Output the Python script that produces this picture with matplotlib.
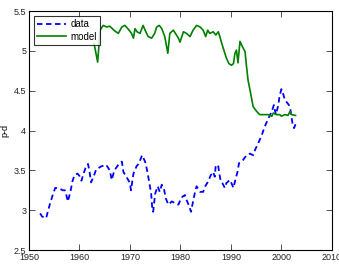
import matplotlib
matplotlib.use("Agg")
import matplotlib.pyplot as plt

plt.rcParams['font.family'] = ['Liberation Sans', 'DejaVu Sans']

data_years = [1952.2, 1952.6, 1953.4, 1953.8, 1954.3, 1954.75, 1955.2, 1956.1, 1956.7, 1957.1,
              1957.4, 1957.7, 1958.2, 1958.6, 1959.0, 1959.6, 1960.0, 1960.4, 1960.7, 1961.2,
              1961.7, 1962.0, 1962.3, 1962.9, 1963.3, 1964.3, 1965.3, 1966.0, 1966.4, 1966.9,
              1967.7, 1968.4, 1968.7, 1969.3, 1970.0, 1970.2, 1970.7, 1971.3, 1971.8, 1972.4,
              1973.0, 1973.4, 1973.8, 1974.2, 1974.4, 1974.6, 1975.0, 1975.5, 1975.9, 1976.3,
              1976.7, 1977.1, 1977.6, 1978.3, 1978.9, 1979.6, 1980.2, 1980.9, 1981.2, 1981.6,
              1982.1, 1982.5, 1982.9, 1983.2, 1983.9, 1984.5, 1984.9, 1985.5, 1986.0, 1986.5,
              1986.8, 1987.0, 1987.5, 1987.7, 1988.0, 1988.3, 1988.8, 1989.1, 1989.8, 1990.1,
              1990.5, 1990.8, 1991.3, 1991.6, 1992.4, 1993.1, 1993.8, 1994.4, 1994.8, 1995.4,
              1996.1, 1996.7, 1997.4, 1998.1, 1998.5, 1998.9, 1999.4, 1999.6, 2000.0, 2000.4,
              2000.7, 2001.0, 2001.5, 2001.8, 2002.0, 2002.2, 2002.5, 2002.8]
data_values = [2.96, 2.92, 2.90, 3.00, 3.11, 3.20, 3.28, 3.27, 3.25, 3.25,
               3.19, 3.11, 3.23, 3.36, 3.44, 3.46, 3.43, 3.37, 3.44, 3.53,
               3.58, 3.48, 3.35, 3.44, 3.51, 3.55, 3.57, 3.50, 3.38, 3.50,
               3.57, 3.61, 3.48, 3.42, 3.34, 3.25, 3.46, 3.55, 3.59, 3.69,
               3.61, 3.50, 3.36, 3.21, 3.04, 2.98, 3.21, 3.30, 3.23, 3.32,
               3.28, 3.15, 3.07, 3.11, 3.09, 3.07, 3.16, 3.19, 3.13, 3.07,
               2.98, 3.11, 3.23, 3.30, 3.23, 3.23, 3.30, 3.36, 3.44, 3.48,
               3.42, 3.57, 3.55, 3.46, 3.36, 3.34, 3.28, 3.34, 3.38, 3.34,
               3.28, 3.36, 3.48, 3.59, 3.63, 3.69, 3.71, 3.69, 3.76, 3.84,
               3.94, 4.05, 4.15, 4.24, 4.32, 4.20, 4.32, 4.42, 4.52, 4.45,
               4.38, 4.36, 4.32, 4.26, 4.17, 4.09, 4.03, 4.08]

model_years = [1962.9, 1963.6, 1964.1, 1964.7, 1965.4, 1966.0, 1967.0, 1967.7, 1968.4, 1969.0,
               1969.7, 1970.3, 1970.7, 1971.0, 1971.4, 1972.0, 1972.6, 1973.0, 1973.6, 1974.3,
               1974.9, 1975.3, 1975.8, 1976.3, 1976.9, 1977.5, 1977.9, 1978.6, 1979.2, 1979.6,
               1979.9, 1980.6, 1981.2, 1981.9, 1982.5, 1983.2, 1983.9, 1984.5, 1985.0, 1985.4,
               1985.8, 1986.5, 1987.0, 1987.5, 1987.8, 1988.2, 1988.7, 1989.1, 1989.6, 1990.1,
               1990.5, 1990.8, 1991.1, 1991.4, 1991.8, 1992.3, 1992.8, 1993.1, 1993.4, 1993.9,
               1994.4, 1995.1, 1995.7, 1996.4, 1997.4, 1998.1, 1998.4, 1999.0, 1999.7, 2000.0,
               2000.7, 2001.3, 2001.7, 2002.0, 2002.8]
model_values = [5.09, 4.86, 5.26, 5.32, 5.30, 5.31, 5.25, 5.22, 5.30, 5.32,
                5.27, 5.22, 5.16, 5.28, 5.24, 5.22, 5.32, 5.26, 5.18, 5.16,
                5.22, 5.30, 5.32, 5.28, 5.18, 4.97, 5.22, 5.26, 5.20, 5.16,
                5.11, 5.24, 5.22, 5.18, 5.26, 5.32, 5.30, 5.26, 5.18, 5.26,
                5.22, 5.24, 5.20, 5.24, 5.18, 5.09, 4.99, 4.91, 4.84, 4.82,
                4.84, 4.97, 5.01, 4.85, 5.12, 5.05, 4.99, 4.80, 4.63, 4.47,
                4.30, 4.24, 4.20, 4.20, 4.20, 4.18, 4.22, 4.20, 4.20, 4.18,
                4.20, 4.19, 4.24, 4.20, 4.19]

x_ticks = [1950, 1960, 1970, 1980, 1990, 2000, 2010]
y_ticks = [2.5, 3, 3.5, 4, 4.5, 5, 5.5]
y_tick_labels = ['2.5', '3', '3.5', '4', '4.5', '5', '5.5']

fig = plt.figure(figsize=(3.39, 2.70), dpi=100)
ax = fig.add_axes([0.0855, 0.074, 0.8935, 0.885])

ax.plot(data_years, data_values, color='#0000ff', linestyle=(0, (3, 2)), linewidth=1.3, label='data')
ax.plot(model_years, model_values, color='#008000', linestyle='-', linewidth=1.2, label='model')

ax.set_xlim(1950, 2010)
ax.set_ylim(2.5, 5.5)
ax.set_xticks(x_ticks)
ax.set_xticklabels([str(t) for t in x_ticks])
ax.set_yticks(y_ticks)
ax.set_yticklabels(y_tick_labels)
ax.tick_params(direction='in', top=True, right=True, length=4, width=0.6, labelsize=6.5, pad=2, colors='#333333', labelcolor='#222222')
for s in ax.spines.values():
    s.set_linewidth(0.8)
ax.set_ylabel('p-d', fontsize=6.5, labelpad=3)

leg = ax.legend(loc='upper left', fontsize=7, frameon=True, fancybox=False, handlelength=3.0,
                borderpad=0.35, labelspacing=0.25, handletextpad=0.4, borderaxespad=0.5)
leg.get_frame().set_edgecolor('black')
leg.get_frame().set_linewidth(0.8)

fig.savefig('out.png', dpi=100)
